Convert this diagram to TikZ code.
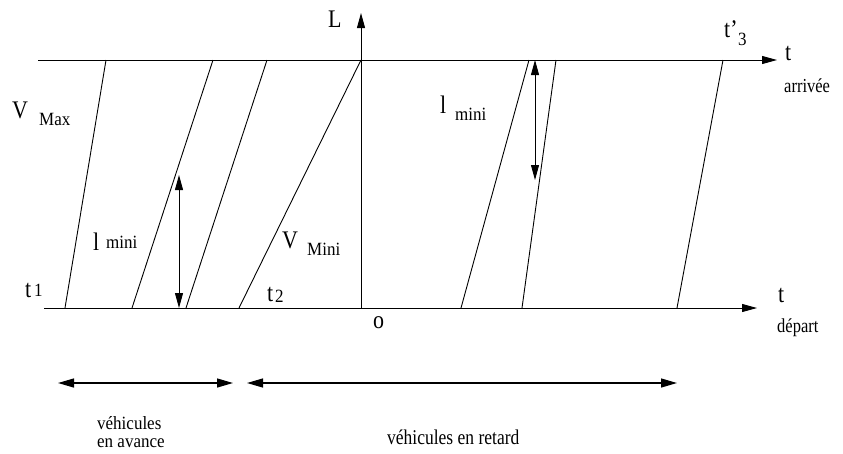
\documentclass[tikz,border=0pt]{standalone}
\usepackage{fontspec}
\setmainfont{Liberation Serif}
\usetikzlibrary{arrows.meta}
\newcommand{\vst}[2][1.15]{\scalebox{1}[#1]{#2}}
\begin{document}
\begin{tikzpicture}[x=1pt,y=-1pt,
  ln/.style={line width=0.9pt},
  ax/.style={line width=0.9pt,-{Triangle[length=15pt,width=8pt]}},
  dbl/.style={line width=0.9pt,{Triangle[length=15pt,width=8pt]}-{Triangle[length=15pt,width=8pt]}},
  spanarrow/.style={line width=1.3pt,{Triangle[length=16pt,width=9pt]}-{Triangle[length=16pt,width=9pt]}},
  lab/.style={anchor=base west,inner sep=0pt,font=\fontsize{22}{24}\selectfont},
  sublab/.style={anchor=base west,inner sep=0pt,font=\fontsize{17}{18}\selectfont},
  small/.style={anchor=base west,inner sep=0pt,font=\fontsize{16.5}{18}\selectfont},
  txt/.style={anchor=base west,inner sep=0pt,font=\fontsize{17.5}{19}\selectfont}]
\useasboundingbox (0,0) rectangle (843,453);
\fill[white] (0,0) rectangle (843,453);
% axes
\coordinate (tl) at (38,60);
\coordinate (tr) at (777,60);
\coordinate (bl) at (44,308);
\coordinate (br) at (757,308);
\coordinate (o) at (361,308);
\coordinate (ltop) at (361,13);
\draw[ax] (tl) -- (tr);
\draw[ax] (bl) -- (br);
\draw[ax] (o) -- (ltop);
% vehicle trajectories
\coordinate (b1) at (65,308);  \coordinate (a1) at (106,60);
\coordinate (b2) at (132,308); \coordinate (a2) at (213,60);
\coordinate (b3) at (186,308); \coordinate (a3) at (267,60);
\coordinate (b4) at (239,308); \coordinate (a4) at (361,60);
\coordinate (b5) at (461,308); \coordinate (a5) at (529,60);
\coordinate (b6) at (522,308); \coordinate (a6) at (556,60);
\coordinate (b7) at (677,308); \coordinate (a7) at (723,60);
\foreach \i in {1,...,7} \draw[ln] (b\i) -- (a\i);
% minimal spacing arrows
\coordinate (d1a) at (179,175); \coordinate (d1b) at (179,308);
\coordinate (d2a) at (535,60);  \coordinate (d2b) at (535,180);
\draw[dbl] (d1a) -- (d1b);
\draw[dbl] (d2a) -- (d2b);
% span arrows
\coordinate (s1a) at (58,383);  \coordinate (s1b) at (233,383);
\coordinate (s2a) at (247,383); \coordinate (s2b) at (677,383);
\draw[spanarrow] (s1a) -- (s1b);
\draw[spanarrow] (s2a) -- (s2b);
% labels
\node[lab] (L) at (328,27) {\vst{L}};
\node[lab] (vmax) at (12,118) {\vst{V}};
\node[sublab] (vmaxs) at (39,125) {\vst[1.1]{Max}};
\node[lab] (lmin1) at (93,250) {\vst{l}};
\node[sublab] (lmin1s) at (106,248) {\vst[1.1]{mini}};
\node[lab] (vmin) at (282,248) {\vst{V}};
\node[sublab] (vmins) at (307,255) {\vst[1.1]{Mini}};
\node[lab] (t1) at (25,297) {\vst{t}};
\node[sublab] (t1s) at (34,296) {\vst[1.1]{1}};
\node[lab] (t2) at (267,301) {\vst{t}};
\node[sublab] (t2s) at (275,302) {\vst[1.1]{2}};
\node[lab] (orig) at (373,328) {\vst{o}};
\node[lab] (t3) at (724,37) {\vst{t'}};
\node[sublab] (t3s) at (738,45) {\vst[1.1]{3}};
\node[lab] (tarr) at (785,60) {\vst{t}};
\node[small] (arr) at (784,92) {\vst[1.2]{arrivée}};
\node[lab] (lmin2) at (440,113) {\vst{l}};
\node[sublab] (lmin2s) at (455,120) {\vst[1.1]{mini}};
\node[lab] (tdep) at (778,302) {\vst{t}};
\node[small] (dep) at (777,332) {\vst[1.2]{départ}};
\node[txt,anchor=north west,align=left,font=\fontsize{17}{18.5}\selectfont] (av) at (97,416) {\vst[1.1]{véhicules}\\\vst[1.1]{en avance}};
\node[txt] (ret) at (387,444) {\vst[1.2]{véhicules en retard}};
\end{tikzpicture}
\end{document}
